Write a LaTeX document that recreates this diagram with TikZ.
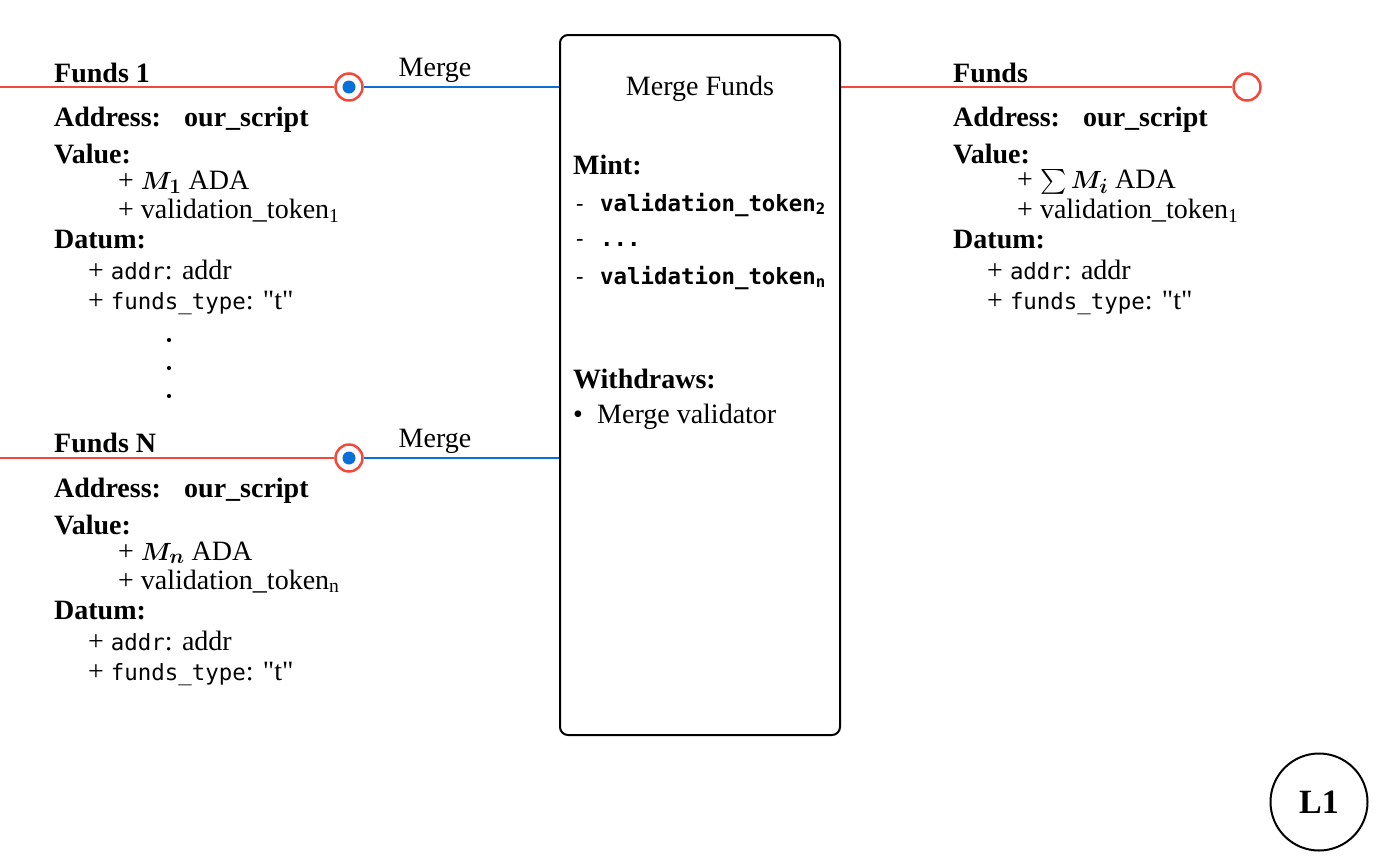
\documentclass[tikz,border=0pt]{standalone}
\usepackage{amsmath}
\usepackage{fontspec}
\setmainfont{Liberation Serif}
\setmonofont{DejaVu Sans Mono}[Scale=0.8]
\newfontfamily\qserif{Liberation Serif}[Ligatures=TeXOff]
\definecolor{fundred}{RGB}{243,72,60}
\definecolor{mergeblue}{RGB}{10,112,215}
\newcommand{\mtt}[1]{{\ttfamily #1}}
\newcommand{\sq}{{\qserif\symbol{"22}}}
\newcommand{\bM}[1]{{\boldmath$M_{#1}$}}
\begin{document}
\begin{tikzpicture}[x=1pt,y=-1pt,
  txt/.style={inner sep=0pt, anchor=base west, font=\fontsize{28}{34}\selectfont},
  ctxt/.style={inner sep=0pt, anchor=base, font=\fontsize{28}{34}\selectfont},
  redline/.style={draw=fundred, line width=2pt},
  blueline/.style={draw=mergeblue, line width=2pt},
  portin/.style={circle, draw=fundred, line width=2.5pt, fill=white, minimum size=27pt, inner sep=0pt,
     path picture={\fill[mergeblue] (path picture bounding box.center) circle[radius=6.5pt];}},
  portout/.style={circle, draw=fundred, line width=2.5pt, fill=white, minimum size=27pt, inner sep=0pt},
  txbox/.style={draw=black, line width=2pt, rounded corners=8pt, minimum width=280pt, minimum height=700pt, inner sep=0pt},
  vdot/.style={circle, fill=black, inner sep=0pt, minimum size=4.2pt}
]
\useasboundingbox (0,0) rectangle (1376,860);

% main transaction box
\node[txbox] (box) at (700,385) {};

% ports
\coordinate (in1) at (0,87);
\coordinate (inN) at (0,458);
\node[portin] (c1) at (349,87) {};
\node[portin] (cN) at (349,458) {};
\node[portout] (cout) at (1247,87) {};

\draw[redline] (in1) -- (c1.west);
\draw[redline] (inN) -- (cN.west);
\draw[blueline] (c1.east) -- (box.west |- c1);
\draw[blueline] (cN.east) -- (box.west |- cN);
\draw[redline] (box.east |- cout) -- (cout.west);

\node[ctxt] (m1) at (435,76) {Merge};
\node[ctxt] (mN) at (435,447) {Merge};

% ---------- Funds 1 ----------
\node[txt] (f1) at (54,82) {\textbf{Funds 1}};
\node[txt] (a1) at (54,126) {\textbf{Address:}};
\node[txt] (s1) at (184,126) {\textbf{our\_script}};
\node[txt] (v1) at (54,163) {\textbf{Value:}};
\node[txt] (v1a) at (118,189) {+ \bM{1} ADA};
\node[txt] (v1b) at (118,218) {+ validation\_token\textsubscript{1}};
\node[txt] (d1) at (54,248) {\textbf{Datum:}};
\node[txt] (d1a) at (88,279) {+ \mtt{addr}: addr};
\node[txt] (d1b) at (88,309) {+ \mtt{funds\_type}: \sq t\sq};

\node[vdot] (dot1) at (169,340) {};
\node[vdot] (dot2) at (169,368) {};
\node[vdot] (dot3) at (169,396) {};

% ---------- Funds N ----------
\node[txt] (fN) at (54,452) {\textbf{Funds N}};
\node[txt] (aN) at (54,497) {\textbf{Address:}};
\node[txt] (sN) at (184,497) {\textbf{our\_script}};
\node[txt] (vN) at (54,534) {\textbf{Value:}};
\node[txt] (vNa) at (118,560) {+ \bM{n} ADA};
\node[txt] (vNb) at (118,589) {+ validation\_token\textsubscript{n}};
\node[txt] (dN) at (54,619) {\textbf{Datum:}};
\node[txt] (dNa) at (88,650) {+ \mtt{addr}: addr};
\node[txt] (dNb) at (88,680) {+ \mtt{funds\_type}: \sq t\sq};

% ---------- Box contents ----------
\node[ctxt] (title) at (700,95) {Merge Funds};
\node[txt] (mint) at (573,174) {\textbf{Mint:}};
\node[txt] (mt1) at (573,211) {\mtt{- \textbf{validation\_token\textsubscript{2}}}};
\node[txt] (mt2) at (573,246) {\mtt{- \textbf{...}}};
\node[txt] (mt3) at (573,284) {\mtt{- \textbf{validation\_token\textsubscript{n}}}};
\node[txt] (wd) at (573,388) {\textbf{Withdraws:}};
\node[txt] (wb) at (573,423) {\textbullet};
\node[txt] (wv) at (597,423) {Merge validator};

% ---------- Output Funds ----------
\node[txt] (fo) at (953,82) {\textbf{Funds}};
\node[txt] (ao) at (953,126) {\textbf{Address:}};
\node[txt] (so) at (1083,126) {\textbf{our\_script}};
\node[txt] (vo) at (953,163) {\textbf{Value:}};
\node[txt] (voa) at (1017,188) {+ $\sum$\,\bM{i} ADA};
\node[txt] (vob) at (1017,218) {+ validation\_token\textsubscript{1}};
\node[txt] (do) at (953,248) {\textbf{Datum:}};
\node[txt] (doa) at (987,279) {+ \mtt{addr}: addr};
\node[txt] (dob) at (987,309) {+ \mtt{funds\_type}: \sq t\sq};

% ---------- L1 badge ----------
\node[circle, draw=black, line width=2pt, minimum size=97pt, inner sep=0pt,
      font=\fontsize{34}{40}\selectfont\bfseries] (l1) at (1319,802) {L1};
\end{tikzpicture}
\end{document}
